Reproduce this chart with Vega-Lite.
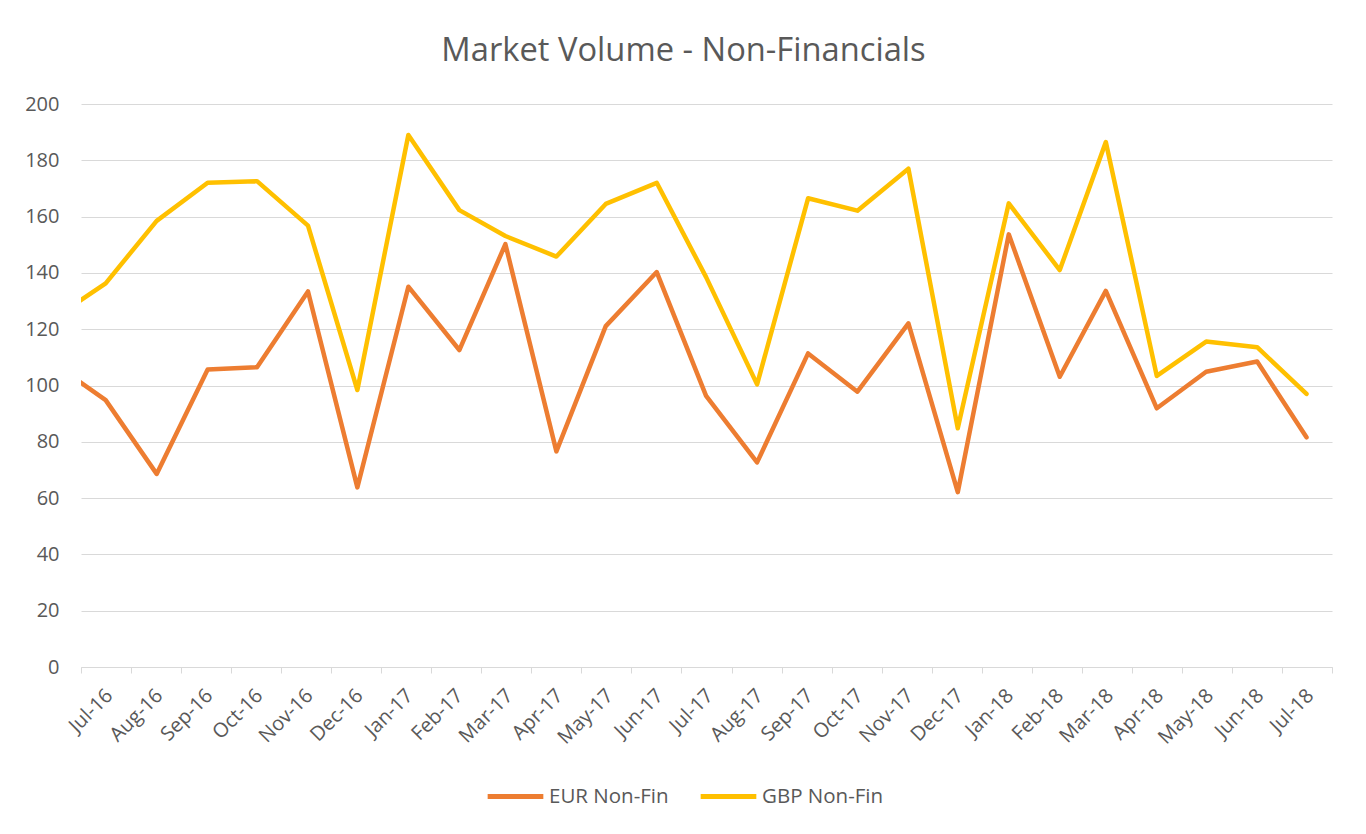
{
  "$schema": "https://vega.github.io/schema/vega-lite/v6.json",
  "autosize": {"type": "none"},
  "width": 1251,
  "height": 563,
  "padding": {"left": 81, "top": 104, "right": 34, "bottom": 167},
  "background": "white",
  "config": {"view": {"stroke": null}, "font": "Open Sans"},
  "title": {
    "text": "Market Volume - Non-Financials",
    "font": "Open Sans",
    "fontSize": 32.7,
    "fontWeight": "normal",
    "color": "#595959",
    "anchor": "middle",
    "offset": 26,
    "dx": -23
  },
  "data": {
    "values": [
      {"date": "2016-06-01", "series": "EUR Non-Fin", "volume": 107.2},
      {"date": "2016-07-01", "series": "EUR Non-Fin", "volume": 94.8},
      {"date": "2016-08-01", "series": "EUR Non-Fin", "volume": 68.6},
      {"date": "2016-09-01", "series": "EUR Non-Fin", "volume": 105.7},
      {"date": "2016-10-01", "series": "EUR Non-Fin", "volume": 106.5},
      {"date": "2016-11-01", "series": "EUR Non-Fin", "volume": 133.4},
      {"date": "2016-12-01", "series": "EUR Non-Fin", "volume": 63.8},
      {"date": "2017-01-01", "series": "EUR Non-Fin", "volume": 135.1},
      {"date": "2017-02-01", "series": "EUR Non-Fin", "volume": 112.6},
      {"date": "2017-03-01", "series": "EUR Non-Fin", "volume": 150.2},
      {"date": "2017-04-01", "series": "EUR Non-Fin", "volume": 76.6},
      {"date": "2017-05-01", "series": "EUR Non-Fin", "volume": 121.1},
      {"date": "2017-06-01", "series": "EUR Non-Fin", "volume": 140.3},
      {"date": "2017-07-01", "series": "EUR Non-Fin", "volume": 96.3},
      {"date": "2017-08-01", "series": "EUR Non-Fin", "volume": 72.7},
      {"date": "2017-09-01", "series": "EUR Non-Fin", "volume": 111.4},
      {"date": "2017-10-01", "series": "EUR Non-Fin", "volume": 97.8},
      {"date": "2017-11-01", "series": "EUR Non-Fin", "volume": 122.1},
      {"date": "2017-12-01", "series": "EUR Non-Fin", "volume": 62.1},
      {"date": "2018-01-01", "series": "EUR Non-Fin", "volume": 153.7},
      {"date": "2018-02-01", "series": "EUR Non-Fin", "volume": 103.1},
      {"date": "2018-03-01", "series": "EUR Non-Fin", "volume": 133.6},
      {"date": "2018-04-01", "series": "EUR Non-Fin", "volume": 91.9},
      {"date": "2018-05-01", "series": "EUR Non-Fin", "volume": 104.9},
      {"date": "2018-06-01", "series": "EUR Non-Fin", "volume": 108.5},
      {"date": "2018-07-01", "series": "EUR Non-Fin", "volume": 81.6},
      {"date": "2016-06-01", "series": "GBP Non-Fin", "volume": 124.5},
      {"date": "2016-07-01", "series": "GBP Non-Fin", "volume": 136.3},
      {"date": "2016-08-01", "series": "GBP Non-Fin", "volume": 158.5},
      {"date": "2016-09-01", "series": "GBP Non-Fin", "volume": 172.0},
      {"date": "2016-10-01", "series": "GBP Non-Fin", "volume": 172.6},
      {"date": "2016-11-01", "series": "GBP Non-Fin", "volume": 156.8},
      {"date": "2016-12-01", "series": "GBP Non-Fin", "volume": 98.4},
      {"date": "2017-01-01", "series": "GBP Non-Fin", "volume": 189.0},
      {"date": "2017-02-01", "series": "GBP Non-Fin", "volume": 162.3},
      {"date": "2017-03-01", "series": "GBP Non-Fin", "volume": 153.1},
      {"date": "2017-04-01", "series": "GBP Non-Fin", "volume": 145.8},
      {"date": "2017-05-01", "series": "GBP Non-Fin", "volume": 164.5},
      {"date": "2017-06-01", "series": "GBP Non-Fin", "volume": 172.0},
      {"date": "2017-07-01", "series": "GBP Non-Fin", "volume": 138.5},
      {"date": "2017-08-01", "series": "GBP Non-Fin", "volume": 100.4},
      {"date": "2017-09-01", "series": "GBP Non-Fin", "volume": 166.5},
      {"date": "2017-10-01", "series": "GBP Non-Fin", "volume": 162.1},
      {"date": "2017-11-01", "series": "GBP Non-Fin", "volume": 177.0},
      {"date": "2017-12-01", "series": "GBP Non-Fin", "volume": 84.8},
      {"date": "2018-01-01", "series": "GBP Non-Fin", "volume": 164.7},
      {"date": "2018-02-01", "series": "GBP Non-Fin", "volume": 141.0},
      {"date": "2018-03-01", "series": "GBP Non-Fin", "volume": 186.5},
      {"date": "2018-04-01", "series": "GBP Non-Fin", "volume": 103.4},
      {"date": "2018-05-01", "series": "GBP Non-Fin", "volume": 115.6},
      {"date": "2018-06-01", "series": "GBP Non-Fin", "volume": 113.6},
      {"date": "2018-07-01", "series": "GBP Non-Fin", "volume": 97.0}
    ]
  },
  "layer": [
    {
      "mark": {"type": "line", "strokeWidth": 4.5, "strokeCap": "round", "strokeJoin": "round", "clip": true},
      "encoding": {
        "x": {
          "field": "date",
          "type": "temporal",
          "scale": {"domain": [
            {"year": 2016, "month": 6, "date": 16, "utc": true},
            {"year": 2018, "month": 7, "date": 16, "hours": 12, "utc": true}
          ]},
          "axis": null
        },
        "y": {
          "field": "volume",
          "type": "quantitative",
          "scale": {"domain": [0, 200]},
          "axis": {
            "values": [0, 20, 40, 60, 80, 100, 120, 140, 160, 180, 200],
            "title": null,
            "grid": true,
            "gridColor": "#D9D9D9",
            "gridWidth": 1,
            "domain": false,
            "ticks": false,
            "tickSize": 0,
            "labelPadding": 22,
            "labelFontSize": 20,
            "labelColor": "#595959",
            "labelFont": "Open Sans"
          }
        },
        "color": {
          "field": "series",
          "type": "nominal",
          "scale": {"domain": ["EUR Non-Fin", "GBP Non-Fin"], "range": ["#ED7D31", "#FFC000"]},
          "legend": {
            "orient": "none",
            "legendX": 404,
            "legendY": 662,
            "direction": "horizontal",
            "title": null,
            "symbolType": "stroke",
            "symbolStrokeWidth": 5,
            "symbolSize": 3100,
            "labelFontSize": 20.5,
            "labelColor": "#595959",
            "labelFont": "Open Sans",
            "labelOffset": 3,
            "columnPadding": 21
          }
        }
      }
    },
    {
      "transform": [
        {"filter": {"field": "date", "timeUnit": "utcyearmonth", "gte": {"year": 2016, "month": 7, "utc": true}}}
      ],
      "mark": {"type": "tick", "opacity": 0},
      "encoding": {
        "x": {
          "field": "date",
          "timeUnit": "utcyearmonth",
          "type": "ordinal",
          "scale": {"type": "band", "paddingInner": 0, "paddingOuter": 0},
          "axis": {
            "orient": "bottom",
            "title": null,
            "format": "%b-%y",
            "labelAngle": -45,
            "labelOverlap": false,
            "labelFontSize": 20,
            "labelColor": "#595959",
            "labelFont": "Open Sans",
            "labelPadding": 12,
            "labelOffset": -4,
            "tickBand": "extent",
            "tickSize": 6,
            "tickColor": "#D9D9D9",
            "domainColor": "#D9D9D9",
            "grid": false
          }
        }
      }
    }
  ],
  "resolve": {"scale": {"x": "independent"}}
}
